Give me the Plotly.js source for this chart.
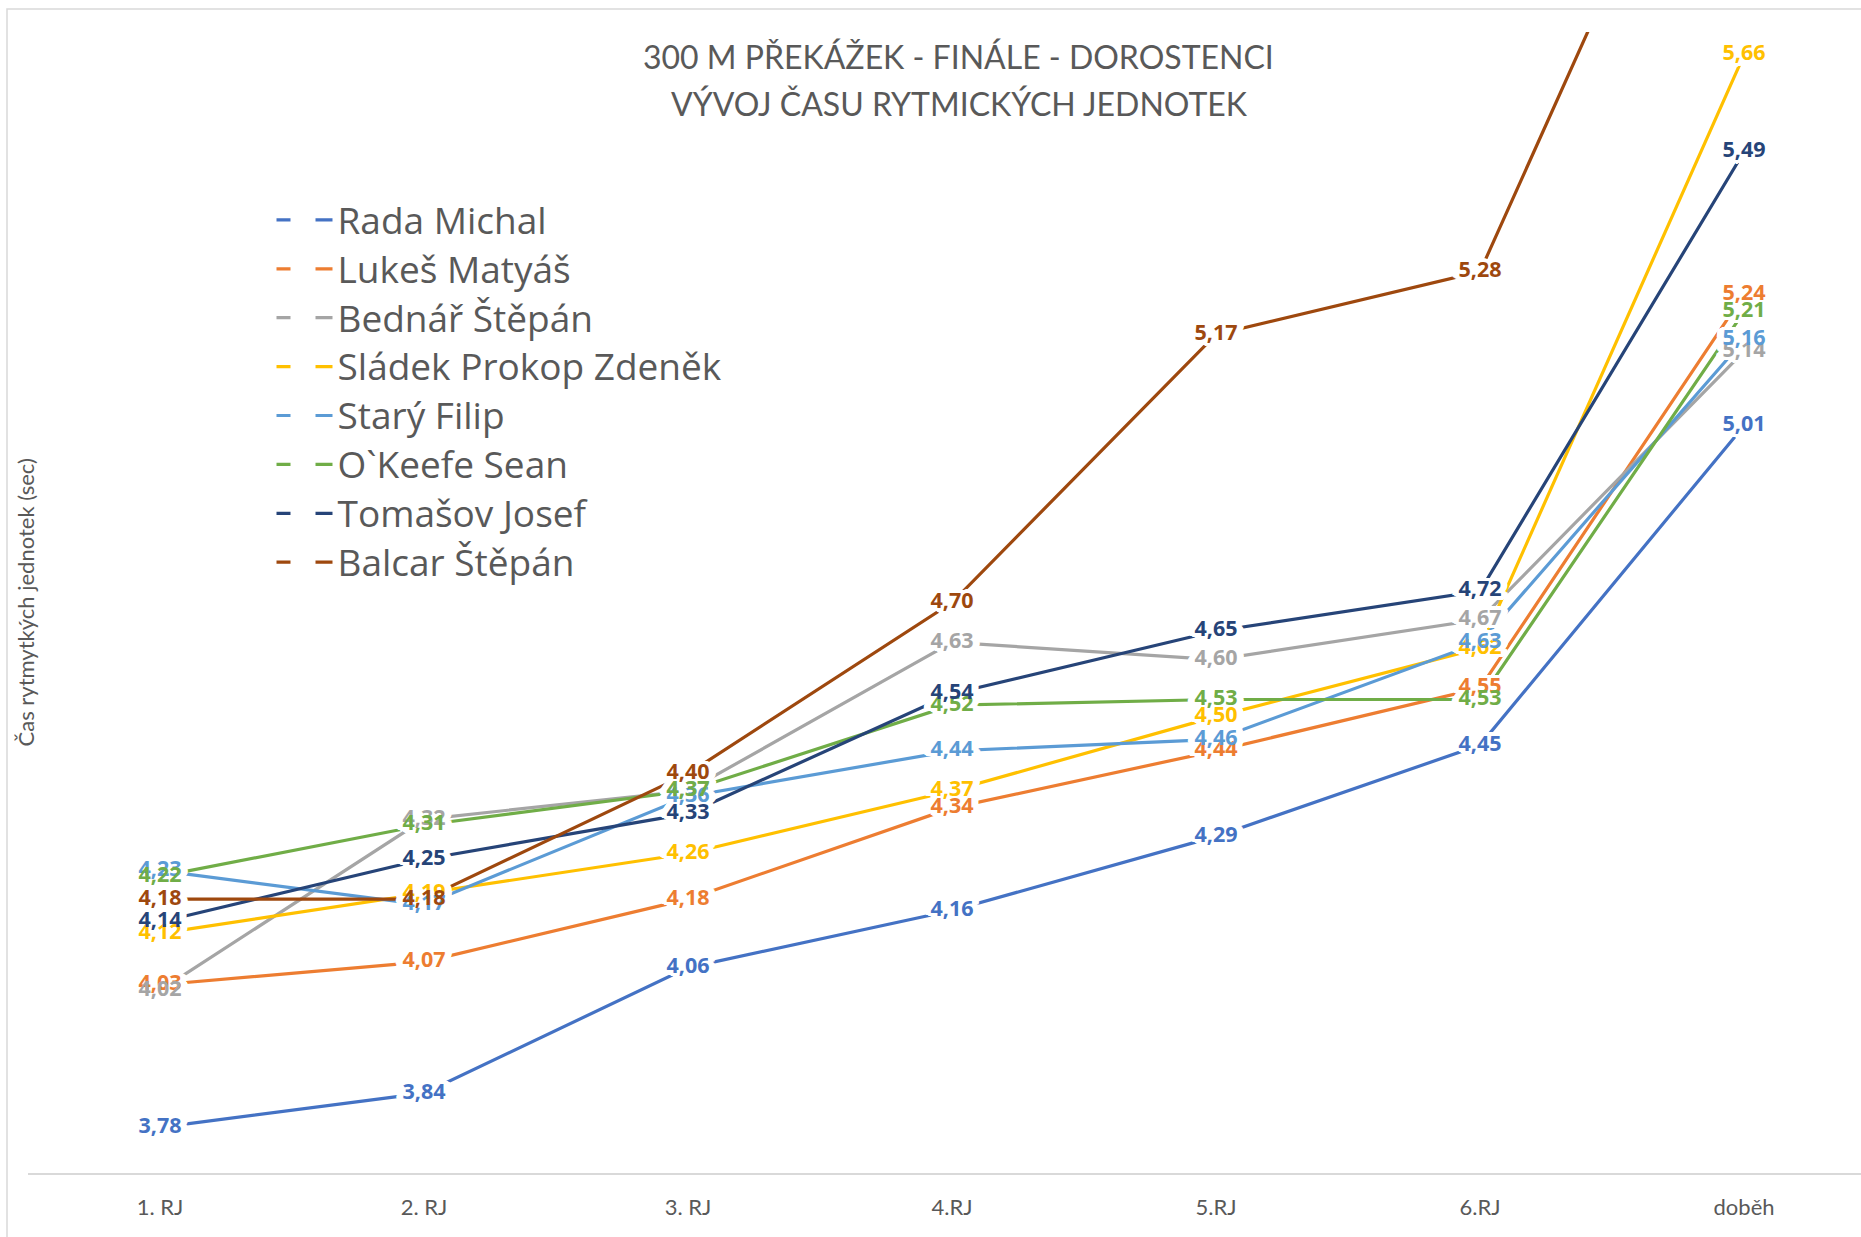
<!DOCTYPE html>
<html>
<head>
<meta charset="utf-8">
<script src="https://cdn.plot.ly/plotly-3.0.1.min.js"></script>
<style>html,body{margin:0;padding:0;background:#fff;}#chart{width:1861px;height:1237px;}</style>
</head>
<body>
<div id="chart"></div>
<script>
// ---- data ----
const categories = ['1. RJ', '2. RJ', '3. RJ', '4.RJ', '5.RJ', '6.RJ', 'doběh'];
const seriesNames = ['Rada Michal', 'Lukeš Matyáš', 'Bednář Štěpán', 'Sládek Prokop Zdeněk',
                     'Starý Filip', 'O`Keefe Sean', 'Tomašov Josef', 'Balcar Štěpán'];
const radaMichal    = [3.78, 3.84, 4.06, 4.16, 4.29, 4.45, 5.01];
const lukesMatyas   = [4.03, 4.07, 4.18, 4.34, 4.44, 4.55, 5.24];
const bednarStepan  = [4.02, 4.32, 4.37, 4.63, 4.60, 4.67, 5.14];
const sladekProkop  = [4.12, 4.19, 4.26, 4.37, 4.50, 4.62, 5.66];
const staryFilip    = [4.23, 4.17, 4.36, 4.44, 4.46, 4.63, 5.16];
const okeefeSean    = [4.22, 4.31, 4.37, 4.52, 4.53, 4.53, 5.21];
const tomasovJosef  = [4.14, 4.25, 4.33, 4.54, 4.65, 4.72, 5.49];
const balcarStepan  = [4.18, 4.18, 4.40, 4.70, 5.17, 5.28, 6.31];
const seriesValues = [radaMichal, lukesMatyas, bednarStepan, sladekProkop,
                      staryFilip, okeefeSean, tomasovJosef, balcarStepan];
const seriesColors = ['#4472C4', '#ED7D31', '#A5A5A5', '#FFC000',
                      '#5B9BD5', '#70AD47', '#264478', '#9E480E'];
const yRange = [3.7, 5.7];
const yTitle = 'Čas rytmytkých jednotek (sec)';

const FONT = 'Lato, "Open Sans", sans-serif';
const LEGEND_FONT = '"Open Sans", Lato, sans-serif';
const LABEL_FONT = '"Open Sans", "Noto Sans", sans-serif';
const LABEL_SIZE = 21.5;
// labels of points outside the visible value range are not shown (as in the original)
const fmt = v => (v >= yRange[0] && v <= yRange[1]) ? v.toFixed(2).replace('.', ',') : '';
const halo = [];
for (let r = 1; r <= 5; r++) {
  for (let a = 0; a < 16; a++) {
    const t = a * Math.PI / 8;
    halo.push((Math.cos(t) * r * 1.4).toFixed(1) + 'px ' + (Math.sin(t) * r * 0.7).toFixed(1) + 'px 0 #fff');
  }
}
const haloShadow = halo.join(', ');

const traces = [];
// lines
seriesNames.forEach((name, i) => {
  traces.push({
    type: 'scatter', mode: 'lines', name: name, legendgroup: name, showlegend: false,
    x: categories, y: seriesValues[i],
    line: {color: seriesColors[i], width: 3.2},
    hoverinfo: 'skip'
  });
});
// halos behind labels (gaps in lines)
seriesNames.forEach((name, i) => {
  traces.push({
    type: 'scatter', mode: 'text', showlegend: false, hoverinfo: 'skip',
    x: categories, y: seriesValues[i], text: seriesValues[i].map(fmt),
    textposition: 'middle center',
    textfont: {family: LABEL_FONT, size: LABEL_SIZE, weight: 700, color: '#ffffff', shadow: haloShadow}
  });
});
// labels
seriesNames.forEach((name, i) => {
  traces.push({
    type: 'scatter', mode: 'text', showlegend: false, hoverinfo: 'skip',
    x: categories, y: seriesValues[i], text: seriesValues[i].map(fmt),
    textposition: 'middle center',
    textfont: {family: LABEL_FONT, size: LABEL_SIZE, weight: 700, color: seriesColors[i]}
  });
});
// legend entries
seriesNames.forEach((name, i) => {
  traces.push({
    type: 'scatter', mode: 'lines', name: '<span style="font-size:37px">' + name + '</span>',
    legendgroup: name, showlegend: true,
    x: [categories[0]], y: [null],
    line: {color: seriesColors[i], width: 3.2, dash: '14px,25px,17px'},
    hoverinfo: 'skip'
  });
});

const layout = {
  width: 1861, height: 1237,
  margin: {l: 28, r: 0, t: 32, b: 64, pad: 0, autoexpand: false},
  paper_bgcolor: '#ffffff', plot_bgcolor: '#ffffff',
  font: {family: FONT, color: '#595959'},
  title: {
    text: '300 M PŘEKÁŽEK - FINÁLE - DOROSTENCI',
    font: {family: FONT, size: 32, color: '#595959'},
    x: 0.515, xanchor: 'center', y: 1 - 58 / 1237, yanchor: 'middle'
  },
  annotations: [{
    text: 'VÝVOJ ČASU RYTMICKÝCH JEDNOTEK', showarrow: false,
    xref: 'paper', yref: 'paper', x: (959 - 28) / 1833, y: (1173 - 104) / 1141,
    xanchor: 'center', yanchor: 'middle',
    font: {family: FONT, size: 32, color: '#595959'}
  }, {
    text: yTitle, showarrow: false, textangle: -90,
    xref: 'paper', yref: 'paper', x: (25 - 28) / 1833, y: 0.5,
    xanchor: 'center', yanchor: 'middle',
    font: {family: FONT, size: 22, color: '#595959'}
  }],
  xaxis: {
    type: 'category', range: [-0.5, 6.443], fixedrange: true,
    showline: true, linecolor: '#d9d9d9', linewidth: 2,
    showgrid: false, zeroline: false, ticks: '',
    tickfont: {family: FONT, size: 22, color: '#595959'},
    ticklabelstandoff: 14
  },
  yaxis: {
    range: yRange, fixedrange: true,
    showline: false, showgrid: false, zeroline: false, showticklabels: false, ticks: ''
  },
  showlegend: true,
  legend: {
    xref: 'container', yref: 'container',
    x: 271.5 / 1861, xanchor: 'left', y: 0.846, yanchor: 'top',
    bgcolor: 'rgba(0,0,0,0)', borderwidth: 0,
    itemwidth: 56, itemclick: false, itemdoubleclick: false,
    font: {family: LEGEND_FONT, size: 35.3, color: '#595959'},
    traceorder: 'normal', tracegroupgap: 0
  },
  shapes: [{
    type: 'rect', xref: 'paper', yref: 'paper',
    x0: (7 - 28) / 1833, x1: 1.5, y0: -0.5, y1: (1173 - 9) / 1141,
    line: {color: '#d9d9d9', width: 1.5}, fillcolor: 'rgba(0,0,0,0)', layer: 'below'
  }]
};

Plotly.newPlot('chart', traces, layout, {displayModeBar: false, staticPlot: true});
</script>
</body>
</html>
